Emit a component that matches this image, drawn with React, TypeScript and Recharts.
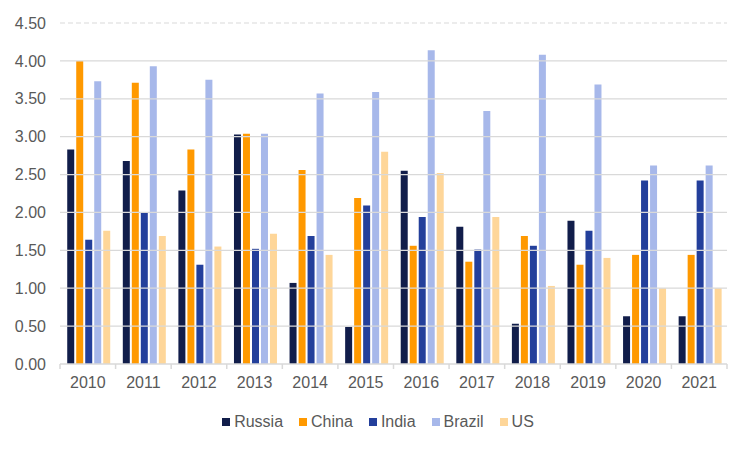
import React from 'react';
import {
  BarChart,
  Bar,
  XAxis,
  YAxis,
  Legend,
  ReferenceLine,
} from 'recharts';

const years = ['2010', '2011', '2012', '2013', '2014', '2015', '2016', '2017', '2018', '2019', '2020', '2021'];
const russia = [2.83, 2.68, 2.29, 3.03, 1.07, 0.49, 2.55, 1.81, 0.53, 1.89, 0.63, 0.63];
const china = [4.0, 3.71, 2.83, 3.04, 2.56, 2.19, 1.56, 1.35, 1.69, 1.31, 1.44, 1.44];
const india = [1.64, 2.0, 1.31, 1.52, 1.69, 2.09, 1.94, 1.51, 1.56, 1.76, 2.42, 2.42];
const brazil = [3.73, 3.93, 3.75, 3.04, 3.57, 3.59, 4.14, 3.34, 4.08, 3.69, 2.62, 2.62];
const us = [1.76, 1.69, 1.55, 1.72, 1.44, 2.8, 2.52, 1.94, 1.03, 1.4, 1.0, 1.0];
const yTicks = [0, 0.5, 1, 1.5, 2, 2.5, 3, 3.5, 4, 4.5];

const series = [
  { key: 'Russia', color: '#111d4a' },
  { key: 'China', color: '#ff9900' },
  { key: 'India', color: '#233f9b' },
  { key: 'Brazil', color: '#a7b8ea' },
  { key: 'US', color: '#fed699' },
];

const data = years.map((year, i) => ({
  year,
  Russia: russia[i],
  China: china[i],
  India: india[i],
  Brazil: brazil[i],
  US: us[i],
}));

const FONT = '"Liberation Sans", Arial, sans-serif';
const TEXT = '#595959';
const GRID = '#d9d9d9';
const BAND = 667 / years.length;

const YearTick = (props: any) => {
  const { x, y, payload, index } = props;
  const axisY = y - 8;
  return (
    <g>
      <line x1={x - BAND / 2} y1={axisY} x2={x - BAND / 2} y2={axisY + 5} stroke={GRID} strokeWidth={1.5} />
      {index === years.length - 1 && (
        <line x1={x + BAND / 2} y1={axisY} x2={x + BAND / 2} y2={axisY + 5} stroke={GRID} strokeWidth={1.5} />
      )}
      <text x={x} y={axisY + 24} textAnchor="middle" fill={TEXT} fontSize={16} fontFamily={FONT}>
        {payload.value}
      </text>
    </g>
  );
};

const LegendContent = () => (
  <div style={{ display: 'flex', justifyContent: 'center', gap: 16, fontFamily: FONT, fontSize: 16, color: TEXT, lineHeight: '20px' }}>
    {series.map((s) => (
      <div key={s.key} style={{ display: 'flex', alignItems: 'center', gap: 4 }}>
        <span style={{ width: 8, height: 8, background: s.color, display: 'inline-block' }} />
        <span>{s.key}</span>
      </div>
    ))}
  </div>
);

export default function App() {
  return (
    <div style={{ position: 'absolute', left: 0, top: 0, width: 750, height: 450, background: '#fff' }}>
      <BarChart
        width={750}
        height={450}
        data={data}
        margin={{ top: 23, right: 23, left: 0, bottom: 36 }}
        barCategoryGap="13%"
        barGap={2}
      >
        {yTicks.slice(1).map((t) => (
          <ReferenceLine
            key={t}
            y={t}
            stroke={GRID}
            strokeWidth={1.2}
            strokeDasharray={t === 4.5 ? '5 3' : undefined}
          />
        ))}
        <XAxis
          dataKey="year"
          axisLine={{ stroke: GRID, strokeWidth: 1.5 }}
          tickLine={false}
          tick={<YearTick />}
          interval={0}
          height={30}
        />
        <YAxis
          domain={[0, 4.5]}
          ticks={yTicks}
          tickFormatter={(v: number) => v.toFixed(2)}
          axisLine={false}
          tickLine={false}
          tickSize={0}
          tickMargin={14}
          width={60}
          tick={{ fill: TEXT, fontSize: 16, fontFamily: FONT }}
        />
        <Legend
          verticalAlign="bottom"
          content={<LegendContent />}
          wrapperStyle={{ bottom: 18, left: 0, width: 756 }}
        />
        {series.map((s) => (
          <Bar key={s.key} dataKey={s.key} fill={s.color} isAnimationActive={false} />
        ))}
      </BarChart>
    </div>
  );
}
